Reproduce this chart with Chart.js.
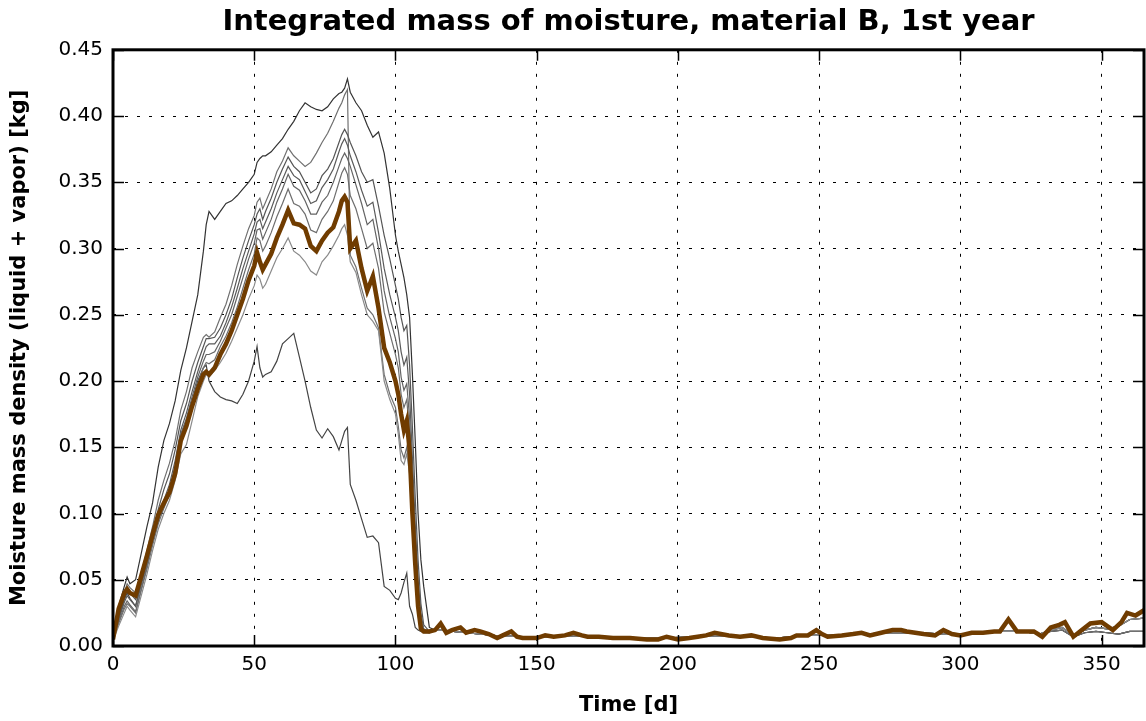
<!DOCTYPE html>
<html>
<head>
<meta charset="utf-8">
<script src="https://cdn.jsdelivr.net/npm/chart.js@4.4.0/dist/chart.umd.min.js"></script>
<style>
  html, body { margin: 0; padding: 0; background: #fff; }
</style>
</head>
<body>
<canvas id="moistureChart" width="1146" height="721"></canvas>
<script>
// time axis (days) for the wet period, shared by all runs
const daysActive = [0,2,4,5,6,8,10,12,14,16,18,20,22,24,26,28,30,32,33,34,36,38,40,42,44,46,48,50,51,52,53,54,56,58,60,62,64,66,68,70,72,74,76,78,80,81,82,83,84,86,88,90,92,94,96,98,100,101,102,103,104,105,106,107,108,109,110,112,114];

// reference run (thick brown)
const mainActive = [0.005,0.028,0.04,0.043,0.04,0.038,0.053,0.068,0.084,0.099,0.108,0.116,0.13,0.155,0.166,0.181,0.194,0.205,0.207,0.205,0.21,0.22,0.228,0.238,0.25,0.262,0.276,0.287,0.297,0.29,0.284,0.288,0.296,0.308,0.318,0.329,0.319,0.318,0.315,0.302,0.298,0.306,0.312,0.316,0.328,0.336,0.339,0.335,0.3,0.306,0.285,0.268,0.279,0.255,0.225,0.214,0.2,0.19,0.175,0.163,0.17,0.148,0.1,0.062,0.03,0.013,0.011,0.011,0.012];
const daysTail = [116,118,120,123,125,128,130,133,136,138,141,143,145,150,153,156,160,163,166,168,172,177,183,189,193,196,200,204,207,210,213,218,222,226,230,236,240,242,246,249,251,253,258,262,265,268,272,276,279,281,284,287,291,294,297,300,304,308,312,314,317,320,323,326,329,332,335,337,340,343,346,350,354,357,359,362,365];
const mainTail = [0.017,0.010,0.012,0.014,0.010,0.012,0.011,0.009,0.006,0.008,0.011,0.007,0.006,0.006,0.008,0.007,0.008,0.010,0.008,0.007,0.007,0.006,0.006,0.005,0.005,0.007,0.005,0.006,0.007,0.008,0.010,0.008,0.007,0.008,0.006,0.005,0.006,0.008,0.008,0.012,0.009,0.007,0.008,0.009,0.010,0.008,0.010,0.012,0.012,0.011,0.010,0.009,0.008,0.012,0.009,0.008,0.010,0.010,0.011,0.011,0.020,0.011,0.011,0.011,0.007,0.014,0.016,0.018,0.007,0.012,0.017,0.018,0.012,0.018,0.025,0.023,0.027];

// other runs (grey), wet period
const runA = [0.01,0.03,0.045,0.052,0.047,0.05,0.07,0.09,0.108,0.135,0.155,0.168,0.185,0.208,0.225,0.245,0.265,0.298,0.318,0.328,0.322,0.328,0.334,0.336,0.34,0.345,0.35,0.356,0.365,0.368,0.37,0.37,0.373,0.378,0.383,0.39,0.396,0.404,0.41,0.407,0.405,0.404,0.407,0.413,0.417,0.418,0.421,0.428,0.418,0.41,0.404,0.393,0.384,0.388,0.372,0.345,0.31,0.298,0.288,0.278,0.265,0.248,0.205,0.155,0.1,0.065,0.045,0.014,0.012];
const runB = [0.008,0.024,0.04,0.047,0.044,0.04,0.055,0.072,0.09,0.11,0.125,0.138,0.155,0.178,0.192,0.21,0.222,0.233,0.235,0.233,0.237,0.248,0.258,0.272,0.288,0.302,0.315,0.325,0.335,0.338,0.33,0.335,0.345,0.358,0.366,0.376,0.37,0.366,0.362,0.365,0.372,0.38,0.387,0.396,0.406,0.41,0.416,0.42,0.295,0.286,0.27,0.255,0.25,0.24,0.205,0.19,0.18,0.166,0.148,0.142,0.15,0.135,0.095,0.058,0.028,0.013,0.011,0.01,0.012];
const runC = [0.007,0.022,0.036,0.042,0.04,0.035,0.05,0.066,0.084,0.103,0.118,0.13,0.148,0.17,0.183,0.2,0.214,0.226,0.232,0.232,0.233,0.24,0.25,0.262,0.278,0.293,0.306,0.318,0.326,0.33,0.322,0.328,0.338,0.35,0.36,0.369,0.362,0.358,0.35,0.342,0.345,0.355,0.36,0.368,0.38,0.386,0.39,0.386,0.38,0.37,0.358,0.35,0.352,0.332,0.31,0.292,0.272,0.262,0.248,0.238,0.242,0.212,0.165,0.112,0.065,0.032,0.016,0.011,0.012];
const runD = [0.006,0.02,0.033,0.038,0.035,0.03,0.046,0.062,0.08,0.097,0.11,0.122,0.14,0.163,0.176,0.192,0.207,0.22,0.226,0.228,0.228,0.234,0.244,0.256,0.27,0.285,0.298,0.311,0.32,0.322,0.315,0.32,0.33,0.342,0.352,0.362,0.355,0.352,0.343,0.334,0.336,0.346,0.352,0.36,0.373,0.379,0.383,0.378,0.37,0.358,0.344,0.332,0.335,0.312,0.285,0.265,0.248,0.238,0.222,0.212,0.218,0.19,0.142,0.092,0.05,0.025,0.013,0.011,0.012];
const runE = [0.004,0.015,0.025,0.03,0.027,0.022,0.038,0.054,0.072,0.088,0.1,0.11,0.125,0.145,0.152,0.17,0.188,0.2,0.205,0.203,0.208,0.214,0.221,0.23,0.24,0.25,0.262,0.272,0.28,0.277,0.27,0.273,0.283,0.293,0.3,0.308,0.298,0.295,0.29,0.283,0.28,0.29,0.295,0.302,0.31,0.315,0.318,0.31,0.29,0.282,0.265,0.25,0.245,0.238,0.2,0.186,0.175,0.16,0.14,0.137,0.145,0.13,0.09,0.055,0.025,0.012,0.011,0.01,0.012];
const runF = [0.005,0.017,0.028,0.032,0.03,0.025,0.042,0.058,0.076,0.092,0.104,0.114,0.132,0.156,0.168,0.184,0.198,0.21,0.214,0.213,0.216,0.226,0.234,0.244,0.256,0.27,0.284,0.296,0.308,0.306,0.298,0.302,0.312,0.324,0.334,0.345,0.334,0.332,0.326,0.314,0.312,0.322,0.328,0.336,0.35,0.357,0.361,0.356,0.34,0.33,0.315,0.3,0.304,0.285,0.252,0.236,0.22,0.21,0.19,0.18,0.186,0.16,0.115,0.074,0.035,0.017,0.012,0.011,0.012];
const runG = [0.006,0.02,0.035,0.04,0.036,0.03,0.048,0.062,0.08,0.095,0.108,0.118,0.135,0.158,0.17,0.185,0.2,0.21,0.212,0.2,0.192,0.188,0.186,0.185,0.183,0.19,0.2,0.215,0.226,0.21,0.203,0.205,0.207,0.215,0.228,0.232,0.236,0.218,0.2,0.18,0.163,0.157,0.164,0.158,0.148,0.155,0.162,0.165,0.122,0.11,0.096,0.082,0.083,0.078,0.045,0.042,0.036,0.035,0.04,0.048,0.055,0.03,0.024,0.014,0.012,0.011,0.01,0.01,0.012];
const runH = [0.005,0.018,0.03,0.034,0.031,0.026,0.043,0.06,0.078,0.094,0.107,0.118,0.136,0.16,0.172,0.188,0.203,0.215,0.22,0.22,0.222,0.23,0.24,0.25,0.264,0.278,0.292,0.304,0.314,0.315,0.307,0.312,0.322,0.335,0.345,0.356,0.347,0.344,0.336,0.326,0.326,0.335,0.34,0.35,0.362,0.368,0.372,0.368,0.362,0.348,0.334,0.318,0.322,0.3,0.268,0.248,0.232,0.222,0.203,0.193,0.198,0.172,0.125,0.08,0.04,0.02,0.012,0.011,0.012];

// grey runs after the wet period (they sit under the brown line until ~330 d)
const daysGreyTail = [116,125,135,145,155,165,175,185,195,205,215,225,235,245,255,265,275,285,295,305,315,322,328,332,336,340,344,348,352,356,360,365];
const greyTailMid = [0.012,0.010,0.008,0.007,0.007,0.008,0.006,0.006,0.006,0.007,0.008,0.007,0.006,0.008,0.008,0.009,0.010,0.010,0.009,0.009,0.011,0.011,0.009,0.012,0.014,0.008,0.012,0.014,0.013,0.015,0.020,0.021];
const greyTailLow = [0.012,0.010,0.008,0.007,0.007,0.008,0.006,0.006,0.006,0.007,0.008,0.007,0.006,0.008,0.008,0.009,0.010,0.010,0.009,0.009,0.011,0.011,0.009,0.011,0.012,0.007,0.010,0.011,0.010,0.009,0.011,0.011];

const xTicks = [0, 50, 100, 150, 200, 250, 300, 350];
const yTicks = [0, 0.05, 0.1, 0.15, 0.2, 0.25, 0.3, 0.35, 0.4, 0.45];

function points(days, vals) {
  return days.map((d, i) => ({ x: d, y: vals[i] }));
}

function greyRun(vals, tail, color) {
  return {
    data: points(daysActive, vals).concat(points(daysGreyTail, tail)),
    borderColor: color,
    borderWidth: 1.2,
    pointRadius: 0
  };
}

// draws inward tick marks and the heavy frame
const frameTicks = {
  id: 'frameTicks',
  afterDatasetsDraw(chart) {
    const { ctx, chartArea: a, scales: { x, y } } = chart;
    ctx.save();
    ctx.strokeStyle = '#000';
    ctx.lineWidth = 1.5;
    ctx.beginPath();
    xTicks.forEach(v => {
      const px = Math.round(x.getPixelForValue(v)) + 0.5;
      ctx.moveTo(px, a.bottom); ctx.lineTo(px, a.bottom - 11);
      ctx.moveTo(px, a.top); ctx.lineTo(px, a.top + 11);
    });
    yTicks.forEach(v => {
      const py = Math.round(y.getPixelForValue(v)) + 0.5;
      ctx.moveTo(a.left, py); ctx.lineTo(a.left + 11, py);
      ctx.moveTo(a.right, py); ctx.lineTo(a.right - 11, py);
    });
    ctx.stroke();
    ctx.lineWidth = 3;
    ctx.strokeRect(a.left, a.top, a.right - a.left, a.bottom - a.top);
    ctx.restore();
  }
};

const ctx = document.getElementById('moistureChart');

new Chart(ctx, {
  type: 'scatter',
  data: {
    datasets: [
      {
        data: points(daysActive, mainActive).concat(points(daysTail, mainTail)),
        borderColor: '#703c00',
        borderWidth: 4.5,
        pointRadius: 0
      },
      greyRun(runE, greyTailMid, '#8a8a8a'),
      greyRun(runF, greyTailMid, '#6e6e6e'),
      greyRun(runH, greyTailMid, '#646464'),
      greyRun(runD, greyTailMid, '#5a5a5a'),
      greyRun(runC, greyTailMid, '#555555'),
      greyRun(runB, greyTailLow, '#707070'),
      greyRun(runG, greyTailLow, '#444444'),
      greyRun(runA, greyTailLow, '#333333')
    ]
  },
  plugins: [frameTicks],
  options: {
    responsive: false,
    animation: false,
    showLine: true,
    layout: { padding: { left: 0, right: 2, top: 0, bottom: 0 } },
    elements: { line: { tension: 0 } },
    plugins: {
      legend: { display: false },
      tooltip: { enabled: false },
      title: {
        display: true,
        fullSize: false,
        text: 'Integrated mass of moisture, material B, 1st year',
        color: '#000',
        font: { family: 'DejaVu Sans', size: 29, weight: 'bold' },
        padding: { top: 5, bottom: 10 }
      }
    },
    scales: {
      x: {
        type: 'linear',
        min: 0,
        max: 365,
        afterBuildTicks: s => { s.ticks = xTicks.map(v => ({ value: v })); },
        afterFit: s => { s.height = 75; },
        ticks: {
          color: '#000',
          padding: 7,
          maxRotation: 0,
          font: { family: 'DejaVu Sans', size: 20 }
        },
        grid: { color: '#000', lineWidth: 1, drawTicks: false },
        border: { display: false, dash: [3, 9] },
        title: {
          display: true,
          text: 'Time [d]',
          color: '#000',
          font: { family: 'DejaVu Sans', size: 21, weight: 'bold' },
          padding: { top: 4, bottom: 3 }
        }
      },
      y: {
        type: 'linear',
        min: 0,
        max: 0.45,
        afterBuildTicks: s => { s.ticks = yTicks.map(v => ({ value: v })); },
        afterFit: s => { s.width = 113; },
        ticks: {
          color: '#000',
          padding: 10,
          font: { family: 'DejaVu Sans', size: 20 },
          callback: v => v.toFixed(2)
        },
        grid: { color: '#000', lineWidth: 1, drawTicks: false },
        border: { display: false, dash: [3, 9] },
        title: {
          display: true,
          text: 'Moisture mass density (liquid + vapor) [kg]',
          color: '#000',
          font: { family: 'DejaVu Sans', size: 21, weight: 'bold' },
          padding: { top: 7, bottom: 4 }
        }
      }
    }
  }
});
</script>
</body>
</html>
